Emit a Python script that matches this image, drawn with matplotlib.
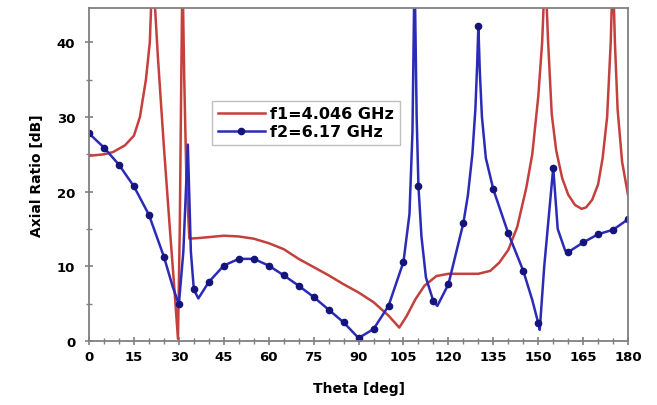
import matplotlib.pyplot as plt

# f1 = 4.046 GHz (smooth curve, no markers)
theta_f1 = [0, 5, 8, 12, 15, 17, 19, 20.3, 21.2, 22, 23, 25, 27, 28.5, 29.7,
            30.3, 30.8, 31.2, 31.8, 32.5, 33.5, 37, 45, 50, 55, 60, 65, 70, 75,
            80, 85, 90, 95, 100, 103.6, 106, 109, 112, 116, 120, 125, 130, 134,
            137, 140, 143, 146, 148, 150, 151.3, 152.3, 153.3, 154.5, 156, 158,
            160, 162.3, 164.5, 166, 168, 170, 171.5, 173, 174.2, 174.9, 175.6,
            176.5, 178, 180]
ar_f1 = [24.8, 25.0, 25.3, 26.2, 27.5, 30, 35, 40, 50, 45, 38, 26, 15, 7, 0.3,
         15, 35, 50, 35, 22, 13.7, 13.8, 14.1, 14.0, 13.7, 13.1, 12.3, 11.0, 9.9,
         8.8, 7.6, 6.5, 5.2, 3.4, 1.8, 3.3, 5.6, 7.4, 8.7, 9.0, 9.0, 9.0, 9.4,
         10.5, 12.2, 15.3, 20.5, 25, 32.7, 40, 50, 40, 30.4, 25.5, 21.8,
         19.6, 18.2, 17.7, 17.9, 18.9, 21, 24.5, 30, 40, 50, 40,
         31, 24, 19.5]

# f2 = 6.17 GHz (markers every 5 deg)
theta_f2 = [0, 5, 10, 15, 20, 25, 28, 30, 31.5, 33, 34, 35, 36.5, 40, 45, 50,
            55, 60, 65, 70, 75, 80, 85, 90, 95, 100, 105, 107, 108, 108.7, 109.4,
            110, 111, 112.5, 115, 116.3, 120, 125, 126.5, 128, 129, 129.6, 130,
            130.5, 131.2, 132.5, 135, 140, 145, 148, 150, 150.5, 152, 155, 156.5,
            159, 160, 165, 170, 175, 180]
ar_f2 = [27.8, 25.9, 23.6, 20.7, 16.9, 11.3, 7.2, 4.9, 12, 26.3, 12, 6.9, 5.7,
         7.9, 10.1, 11.0, 11.0, 10.1, 8.8, 7.4, 5.9, 4.2, 2.5, 0.4, 1.6, 4.7,
         10.6, 17, 28, 50, 30, 20.7, 14, 8.5, 5.3, 4.7, 7.6, 15.8, 19.5, 25,
         31, 37, 42.2, 36, 30, 24.5, 20.3, 14.4, 9.4, 5.5, 2.4, 1.5, 10, 23.2,
         15, 12.1, 11.9, 13.2, 14.3, 14.9, 16.3]

marks = [i for i, t in enumerate(theta_f2) if t % 5 == 0]

fig = plt.figure(figsize=(6.57, 4.06), dpi=100)
ax = fig.add_axes([0.1355, 0.1576, 0.8205, 0.8204])

ax.plot(theta_f1, ar_f1, color='#c4403c', linewidth=1.8, label='f1=4.046 GHz')
ax.plot(theta_f2, ar_f2, color='#2b2bb8', linewidth=1.8, marker='o',
        markersize=4.5, markerfacecolor='#14147a', markeredgecolor='#14147a',
        markevery=marks, label='f2=6.17 GHz')

ax.set_xlim(0, 180)
ax.set_ylim(0, 44.6)
ax.set_xticks(range(0, 181, 15))
ax.set_xticks(range(0, 181, 5), minor=True)
ax.set_yticks(range(0, 41, 10))
ax.set_yticks(range(5, 45, 10), minor=True)

font1 = {'family': 'DejaVu Sans', 'weight': 'bold', 'size': 10}
ax.set_xlabel('Theta [deg]', fontdict=font1, labelpad=13)
ax.set_ylabel('Axial Ratio [dB]', fontdict=font1, labelpad=9)

for s in ax.spines.values():
    s.set_color('#808080')
    s.set_linewidth(1.3)
ax.tick_params(which='major', direction='inout', length=6, width=1.2,
               color='#808080', labelsize=9.5)
ax.tick_params(axis='y', which='major', pad=7)
ax.tick_params(which='minor', direction='inout', length=4, width=1.0,
               color='#808080')
for label in ax.get_xticklabels() + ax.get_yticklabels():
    label.set_fontfamily('DejaVu Sans')
    label.set_fontweight('bold')

leg = ax.legend(loc='upper left', bbox_to_anchor=(0.228, 0.722),
                borderaxespad=0, fancybox=False, handlelength=3.0,
                handletextpad=0.3, borderpad=0.35, labelspacing=0.2,
                prop={'family': 'DejaVu Sans', 'weight': 'bold', 'size': 11.5})
leg.get_frame().set_edgecolor('#b0b0b0')

fig.savefig('out.png', dpi=100)
